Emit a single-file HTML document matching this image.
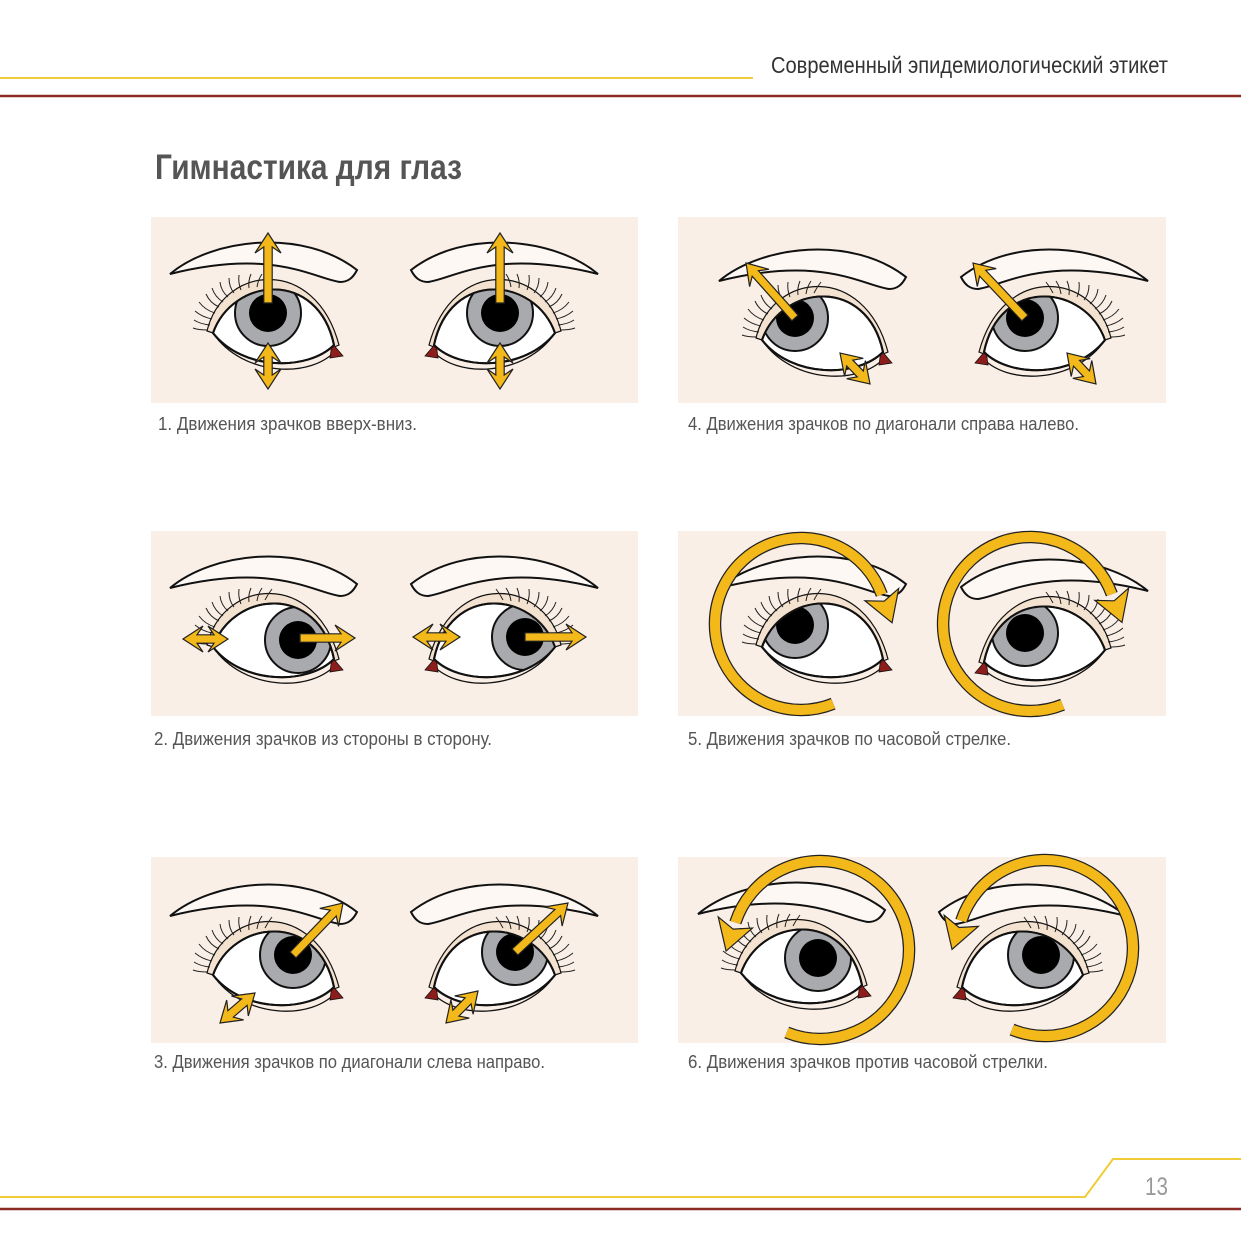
<!DOCTYPE html>
<html><head><meta charset="utf-8"><style>
html,body{margin:0;padding:0;background:#fff;}
svg{display:block;}
text{font-family:"Liberation Sans Narrow","Liberation Sans",sans-serif;}
</style></head><body>
<svg id="s" width="1241" height="1241" viewBox="0 0 1241 1241" xmlns="http://www.w3.org/2000/svg">
<defs>
<g id="eyeBase">
  <path d="M-43,-59 C0,-95 90,-105 144,-63 C140,-55 135,-51 127,-51 C100,-55 60,-85 -43,-59 Z" fill="#fdf8f3" stroke="#111" stroke-width="2"/>
  <path d="M0,0 C30,44 100,46 124,16" fill="none" stroke="#111" stroke-width="1.3"/>
  <path d="M-6,-2 C10,-68 102,-78 126,12 L121,14 C102,-54 22,-56 0,0 Z" fill="#f3e2cf" stroke="#111" stroke-width="1.2"/>
  <g fill="none" stroke="#222" stroke-width="1">
    <path d="M-3,-8 q-10,-1 -16,-5"/><path d="M-1,-14 q-10,-2 -17,-8"/><path d="M2,-20 q-10,-3 -16,-11"/>
    <path d="M6,-26 q-9,-4 -13,-13"/><path d="M10,-31 q-8,-5 -11,-14"/><path d="M15,-36 q-7,-6 -8,-15"/>
    <path d="M21,-40 q-5,-6 -5,-15"/><path d="M28,-43 q-3,-7 -2,-15"/><path d="M36,-45 q-1,-7 2,-14"/>
    <path d="M44,-46 q1,-7 5,-13"/><path d="M52,-47 q3,-6 7,-11"/><path d="M-5,-3 q-10,0 -15,-2"/>
  </g>
  <path d="M119,10 L130,23 L117,25 Z" fill="#8c1d1a" stroke="#111" stroke-width="0.8"/>
</g>
<path id="white" d="M0,0 C20,-56 105,-64 121,12 C95,38 30,38 0,0 Z"/>
<clipPath id="wc"><use href="#white"/></clipPath>
</defs>
<line x1="0" y1="78" x2="753" y2="78" stroke="#f0cc3a" stroke-width="2"/>
<line x1="0" y1="96" x2="1241" y2="96" stroke="#8b2a25" stroke-width="2.5"/>
<text x="771" y="73" font-size="23" fill="#333" textLength="397" lengthAdjust="spacingAndGlyphs">Современный эпидемиологический этикет</text>
<text x="155" y="179" font-size="35" font-weight="bold" fill="#555" textLength="307" lengthAdjust="spacingAndGlyphs">Гимнастика для глаз</text>
<rect x="151" y="217" width="487" height="186" fill="#faefe6"/>
<rect x="678" y="217" width="488" height="186" fill="#faefe6"/>
<rect x="151" y="531" width="487" height="185" fill="#faefe6"/>
<rect x="678" y="531" width="488" height="185" fill="#faefe6"/>
<rect x="151" y="857" width="487" height="186" fill="#faefe6"/>
<rect x="678" y="857" width="488" height="186" fill="#faefe6"/>
<g id="art"></g>
<g font-size="18" fill="#555">
<text x="158" y="430" textLength="259" lengthAdjust="spacingAndGlyphs">1. Движения зрачков вверх-вниз.</text>
<text x="688" y="430" textLength="391" lengthAdjust="spacingAndGlyphs">4. Движения зрачков по диагонали справа налево.</text>
<text x="154" y="745" textLength="338" lengthAdjust="spacingAndGlyphs">2. Движения зрачков из стороны в сторону.</text>
<text x="688" y="745" textLength="323" lengthAdjust="spacingAndGlyphs">5. Движения зрачков по часовой стрелке.</text>
<text x="154" y="1068" textLength="391" lengthAdjust="spacingAndGlyphs">3. Движения зрачков по диагонали слева направо.</text>
<text x="688" y="1068" textLength="360" lengthAdjust="spacingAndGlyphs">6. Движения зрачков против часовой стрелки.</text>
</g>
<polyline points="0,1197 1085,1197 1113,1159 1241,1159" fill="none" stroke="#f0cc3a" stroke-width="2"/>
<line x1="0" y1="1209" x2="1241" y2="1209" stroke="#8b2a25" stroke-width="2.5"/>
<text x="1145" y="1195" font-size="25" fill="#999" textLength="23" lengthAdjust="spacingAndGlyphs">13</text>
</svg>
<script>
(function(){
var art=document.getElementById("art"),h="";
function eye(x,y,mirror,ix,iy){
  var t="translate("+x+","+y+")"+(mirror?" scale(-1,1)":"");
  h+='<g transform="'+t+'"><use href="#eyeBase"/><use href="#white" fill="#fff" stroke="#111" stroke-width="2"/>'+
  '<g clip-path="url(#wc)"><circle cx="'+ix+'" cy="'+iy+'" r="33" fill="#a9aaae" stroke="#111" stroke-width="2"/>'+
  '<circle cx="'+ix+'" cy="'+iy+'" r="19" fill="#000"/></g>'+
  '<use href="#white" fill="none" stroke="#111" stroke-width="2"/></g>';
}
var Y="#f3b81a";
function arrow(x1,y1,x2,y2,both){
  var dx=x2-x1,dy=y2-y1,L=Math.sqrt(dx*dx+dy*dy),ux=dx/L,uy=dy/L,nx=-uy,ny=ux;
  var w=4.2,hw=13,hl=20;
  function p(a,b){return (x1+ux*a+nx*b).toFixed(1)+","+(y1+uy*a+ny*b).toFixed(1);}
  var pts=[];
  if(both){pts.push(p(0,0),p(hl,hw),p(hl*0.7,w));}else{pts.push(p(0,w));}
  pts.push(p(L-hl*0.7,w),p(L-hl,hw),p(L,0),p(L-hl,-hw),p(L-hl*0.7,-w));
  if(both){pts.push(p(hl*0.7,-w),p(hl,-hw));}else{pts.push(p(0,-w));}
  h+='<polygon points="'+pts.join(" ")+'" fill="'+Y+'" stroke="#222" stroke-width="1.2"/>';
}
function circ(cx,cy,r,a0,a1,cw){
  var R=Math.PI/180;
  var sx=cx+r*Math.cos(a0*R),sy=cy+r*Math.sin(a0*R),ex=cx+r*Math.cos(a1*R),ey=cy+r*Math.sin(a1*R);
  var d="M"+sx.toFixed(1)+","+sy.toFixed(1)+" A"+r+","+r+" 0 1 "+(cw?1:0)+" "+ex.toFixed(1)+","+ey.toFixed(1);
  h+='<path d="'+d+'" fill="none" stroke="#222" stroke-width="12.5"/>';
  h+='<path d="'+d+'" fill="none" stroke="'+Y+'" stroke-width="10"/>';
  var c=Math.cos(a1*R),s=Math.sin(a1*R),tx=cw?-s:s,ty=cw?c:-c;
  var hw=18,hl=30;
  var b1=(ex+c*hw)+","+(ey+s*hw),b2=(ex-c*hw)+","+(ey-s*hw),tp=(ex+tx*hl)+","+(ey+ty*hl);
  var m1=(ex+tx*7)+","+(ey+ty*7);
  h+='<polygon points="'+b1+" "+tp+" "+b2+" "+m1+'" fill="'+Y+'" stroke="#222" stroke-width="1.2"/>';
}
eye(213,333,false,55,-20); eye(555,333,true,55,-20);
arrow(268,303,268,233,false); arrow(268,343,268,389,true);
arrow(500,303,500,233,false); arrow(500,343,500,389,true);
eye(213,647,false,85,-7); eye(555,647,true,30,-10);
arrow(228,639,183,639,true); arrow(300,638,355,638,false);
arrow(460,637,413,637,true); arrow(525,637,586,637,false);
eye(213,975,false,80,-20); eye(555,975,true,40,-23);
arrow(293,955,343,903,false); arrow(255,993,220,1023,true);
arrow(515,952,568,903,false); arrow(478,991,446,1023,true);
eye(762,340,false,33,-22); eye(1105,340,true,80,-22);
arrow(795,318,746,263,false); arrow(840,353,870,384,true);
arrow(1025,318,973,263,false); arrow(1067,353,1096,384,true);
eye(762,647,false,33,-22); eye(1105,650,true,80,-17);
circ(801,624,86,68,340,true); circ(1030,624,87,68,340,true);
eye(741,973,false,77,-15); eye(1083,975,true,42,-20);
circ(820,950,89,112,198,false); circ(1045,948,88,112,198,false);
art.innerHTML=h;
})();
</script>
</body></html>
